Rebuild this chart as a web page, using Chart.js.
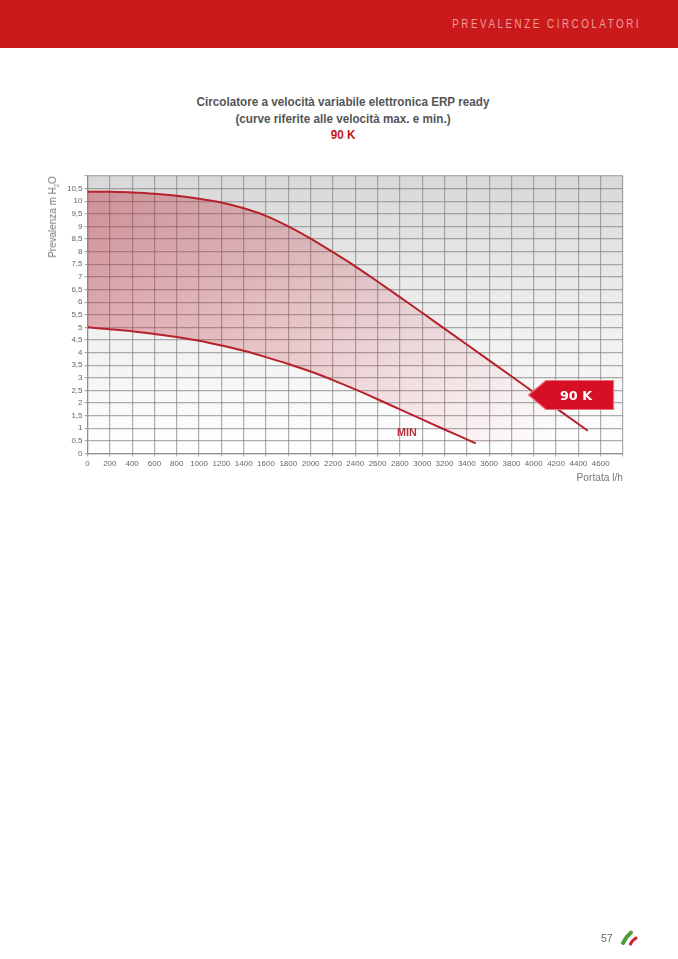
<!DOCTYPE html>
<html lang="it">
<head>
<meta charset="utf-8">
<title>Prevalenze circolatori</title>
<script src="https://cdn.jsdelivr.net/npm/chart.js@4"></script>
<style>
html,body{margin:0;padding:0;background:#fff;overflow:hidden}
#page{position:relative;width:678px;height:959px;font-family:"Liberation Sans",Arial,sans-serif}
#band{position:absolute;left:0;top:0;width:678px;height:48px;background:#cb1a1b}
#head{position:absolute;right:37px;top:17px;color:#ef9f9c;font-size:12.5px;letter-spacing:3.3px;white-space:nowrap;line-height:15px;transform:scaleX(.78);transform-origin:right center}
#title{position:absolute;left:0;width:686px;top:94px;text-align:center;font-weight:700;font-size:13.6px;line-height:16.6px;color:#555;transform:scaleX(.86);transform-origin:center top}
#title b{color:#c4161c}
#chartWrap{position:absolute;left:0;top:0;width:678px;height:959px}
#ylab{position:absolute;left:52px;top:216.5px;transform:translate(-50%,-50%) rotate(-90deg) scaleX(.9);font-size:11px;color:#777;white-space:nowrap}
#ylab sub{font-size:6.5px;line-height:0}
#xlab{position:absolute;right:55px;top:472px;font-size:10.2px;color:#777}
#minlab{position:absolute;left:397px;top:426px;font-size:10.8px;font-weight:700;color:#b9303a}
#call{position:absolute;left:527px;top:378px}
#pg{position:absolute;left:601px;top:932px;font-size:10.5px;color:#666}
#logo{position:absolute;left:620px;top:929px}
</style>
</head>
<body>
<div id="page">
  <div id="band"></div>
  <div id="head">PREVALENZE CIRCOLATORI</div>
  <div id="title">Circolatore a velocità variabile elettronica ERP ready<br>(curve riferite alle velocità max. e min.)<br><b>90 K</b></div>
  <div id="chartWrap"><canvas id="c" width="678" height="959"></canvas></div>
  <div id="ylab">Prevalenza m H<sub>2</sub>O</div>
  <div id="xlab">Portata l/h</div>
  <div id="minlab">MIN</div>
  <svg id="call" width="90" height="36" viewBox="0 0 90 36">
    <path d="M1.5 17 L19 2.5 L86.5 2.5 L86.5 31.5 L19 31.5 Z" fill="#d60f25" stroke="#e9707c" stroke-width="1.2" stroke-linejoin="round"/>
    <text x="49" y="22" text-anchor="middle" font-family="'DejaVu Sans',sans-serif" font-weight="700" font-size="12.8" fill="#fff">90 K</text>
  </svg>
  <div id="pg">57</div>
  <svg id="logo" width="18" height="18" viewBox="0 0 18 18">
    <path d="M3 14 C5 10 8 6 11 3.5" fill="none" stroke="#4f9e3b" stroke-width="4" stroke-linecap="round"/>
    <path d="M10.5 15 C11.5 13 13.5 10.5 16 9" fill="none" stroke="#cc2229" stroke-width="3" stroke-linecap="round"/>
  </svg>
</div>
<script>
const maxFlow = [0,200,400,600,800,1000,1200,1400,1600,1800,2000,2200,2400,2600,2800,3000,3200,3400,3600,3800,4000,4200,4400,4484];
const maxHead = [10.38,10.38,10.35,10.3,10.22,10.1,9.95,9.72,9.42,9.0,8.52,7.98,7.42,6.82,6.2,5.58,4.95,4.32,3.69,3.06,2.43,1.8,1.17,0.9];
const minFlow = [0,200,400,600,800,1000,1200,1400,1600,1800,2000,2200,2400,2600,2800,3000,3200,3400,3480];
const minHead = [5.0,4.93,4.85,4.74,4.62,4.47,4.28,4.07,3.82,3.55,3.25,2.91,2.54,2.15,1.75,1.35,0.95,0.56,0.4];
const flowMax = 4800, flowStep = 200, headMax = 11, headStep = 0.5;

const toPoints = (xs, ys) => xs.map((x, i) => ({x, y: ys[i]}));
const maxCurve = toPoints(maxFlow, maxHead);
const minCurve = toPoints(minFlow, minHead);
const lowerEdge = minCurve.concat(maxCurve[maxCurve.length - 1]);

const panelBackground = {
  id: 'panelBackground',
  beforeDraw(chart) {
    const {ctx, chartArea: a} = chart;
    const g = ctx.createLinearGradient(0, a.top, 0, a.bottom);
    g.addColorStop(0, '#d8d8d8');
    g.addColorStop(0.5, '#eeeeee');
    g.addColorStop(1, '#ffffff');
    ctx.save();
    ctx.fillStyle = g;
    ctx.fillRect(a.left, a.top, a.width, a.height);
    ctx.restore();
  }
};

function bandFill(ctx) {
  const a = ctx.chart.chartArea;
  if (!a) return 'rgba(190,35,50,.3)';
  const g = ctx.chart.ctx.createLinearGradient(a.left, a.top, a.left + a.width * 0.85, a.bottom);
  g.addColorStop(0, 'rgba(180,25,40,.38)');
  g.addColorStop(0.5, 'rgba(195,35,50,.2)');
  g.addColorStop(1, 'rgba(210,40,60,0)');
  return g;
}

const tickFont = {family: '"Liberation Sans",Arial,sans-serif', size: 8};
const gridColor = 'rgba(125,125,125,.62)';

new Chart(document.getElementById('c'), {
  type: 'line',
  data: {
    datasets: [
      {label: '90 K', data: maxCurve, borderColor: '#b5222c', borderWidth: 2, pointRadius: 0,
       cubicInterpolationMode: 'monotone', fill: {target: 2}, backgroundColor: bandFill},
      {label: 'MIN', data: minCurve, borderColor: '#b5222c', borderWidth: 2, pointRadius: 0,
       cubicInterpolationMode: 'monotone', fill: false},
      {label: 'edge', data: lowerEdge, borderWidth: 0, borderColor: 'transparent', pointRadius: 0,
       cubicInterpolationMode: 'monotone', fill: false}
    ]
  },
  options: {
    responsive: false,
    animation: false,
    layout: {padding: {left: 0, top: 176, right: 55, bottom: 0}},
    plugins: {legend: {display: false}, title: {display: false}, tooltip: {enabled: false}},
    scales: {
      x: {
        type: 'linear', min: 0, max: flowMax,
        afterFit(s) { s.height = 959 - 176 - 277.5; },
        grid: {color: gridColor, lineWidth: 1.2, tickLength: 3, drawTicks: true},
        border: {color: gridColor, width: 1.2},
        ticks: {stepSize: flowStep, autoSkip: false, maxRotation: 0, padding: 2, color: '#666', font: tickFont,
                callback: v => v === flowMax ? '' : String(v)}
      },
      y: {
        type: 'linear', min: 0, max: headMax,
        afterFit(s) { s.width = 87.5; },
        grid: {color: gridColor, lineWidth: 1.2, tickLength: 3},
        border: {color: gridColor, width: 1.2},
        ticks: {stepSize: headStep, autoSkip: false, padding: 2, color: '#666', font: tickFont,
                callback: v => v === headMax ? '' : String(v).replace('.', ',')}
      }
    }
  },
  plugins: [panelBackground]
});
</script>
</body>
</html>
